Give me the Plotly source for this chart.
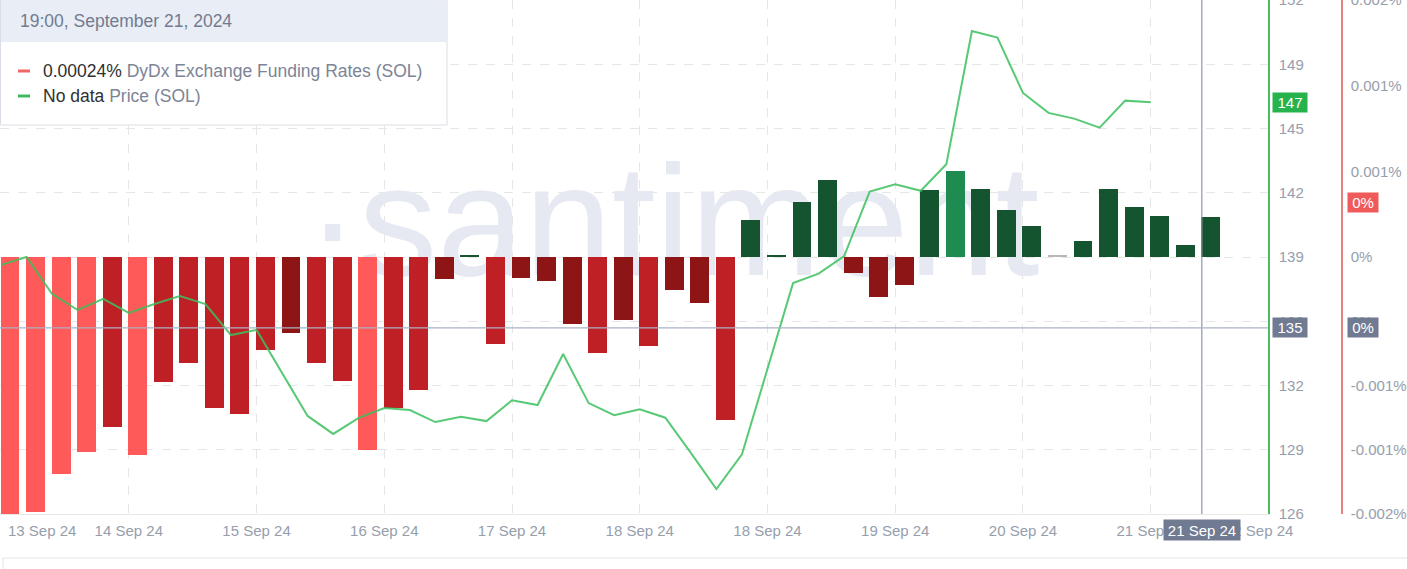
import numpy as np
import plotly.graph_objects as go

# ---------------- data ----------------
funding_rates = [-0.00155, -0.001538, -0.001309, -0.001176, -0.001025, -0.001194, -0.000754, -0.000639,
                 -0.000911, -0.000947, -0.000561, -0.000458, -0.000639, -0.000748, -0.001164, -0.000911,
                 -0.000802, -0.000133, 0.000011, -0.000525, -0.000127, -0.000145, -0.000404, -0.000579,
                 -0.00038, -0.000537, -0.000199, -0.000277, -0.000983, 0.000223, 0.000013, 0.000332,
                 0.000464, -0.000096, -0.000241, -0.000169, 0.000407, 0.000519, 0.00041, 0.000283,
                 0.000187, 0.000008, 0.0000965, 0.000413, 0.000302, 0.000247, 0.0000754, 0.00024]

price = [138.6, 139.0, 137.13, 136.32, 136.88, 136.17, 136.62, 137.03, 136.62, 135.05, 135.31, 133.13,
         130.96, 130.05, 130.86, 131.36, 131.26, 130.65, 130.92, 130.7, 131.75, 131.51, 134.09, 131.61,
         131.0, 131.3, 130.87, 129.09, 127.26, 129.02, 133.33, 137.68, 138.16, 139.05, 142.31, 142.68,
         142.35, 143.69, 150.43, 150.1, 147.3, 146.29, 146.0, 145.54, 146.91, 146.83]

x_tick_labels = ["14 Sep 24", "15 Sep 24", "16 Sep 24", "17 Sep 24", "18 Sep 24",
                 "18 Sep 24", "19 Sep 24", "20 Sep 24", "21 Sep 24"]
price_tick_labels = ["126", "129", "132", "136", "139", "142", "145", "149", "152"]
fr_tick_labels = ["0.002%", "0.001%", "0.001%", "0%", "0%", "-0.001%", "-0.001%", "-0.002%"]

header_text = "19:00, September 21, 2024"
fr_value_text = "0.00024%"
price_value_text = "No data"
last_price = 146.83
cross_price = 135.41
last_fr_badge = 0.000326
cross_fr = -0.000428

# ---------------- layout constants ----------------
W, H = 1407, 569
ML, MR, MT, MB = 0, 65, 0, 55
PW = W - ML - MR          # 1342
PH = H - MT - MB          # 514
XDOM = 1268 / PW
FONT = "Liberation Sans, Arial, sans-serif"
TICKC = "#969eac"

FR_MAX = 0.00155
PMIN, PMAX = 126, 152


def bar_color(v):
    if abs(v) < 0.00001:
        return "#b8b8b8"
    if v > 0:
        return "#1e8c50" if v >= 0.00049 else "#145530"
    if v <= -0.0011:
        return "#ff5a5a"
    if v <= -0.00049:
        return "#be2026"
    return "#8e1515"


n_bars = len(funding_rates)
bar_x = np.arange(n_bars)
price_x = np.arange(len(price)) - 0.35

fig = go.Figure()

# watermark (bottom layer)
fig.add_trace(go.Scatter(x=[25.95], y=[140.1], mode="text", text=["·santiment"],
                         textfont=dict(size=157, color="#e6e9f2", family=FONT),
                         hoverinfo="skip", showlegend=False, xaxis="x", yaxis="y"))

fig.add_trace(go.Bar(x=bar_x, y=funding_rates, width=0.74,
                     marker=dict(color=[bar_color(v) for v in funding_rates], line=dict(width=0)),
                     showlegend=False, xaxis="x", yaxis="y2", name="DyDx Exchange Funding Rates (SOL)"))

fig.add_trace(go.Scatter(x=price_x, y=price, mode="lines",
                         line=dict(color="#3cc05e", width=2), opacity=0.85,
                         showlegend=False, xaxis="x", yaxis="y3", name="Price (SOL)"))

grid_x = [4.65 + 5 * j for j in range(len(x_tick_labels))]
price_ticks = [PMIN + (PMAX - PMIN) / 8 * j for j in range(9)]
fr_ticks = [FR_MAX, FR_MAX * 2 / 3, FR_MAX / 3, 0, -FR_MAX / 4, -FR_MAX / 2, -FR_MAX * 3 / 4, -FR_MAX]

fig.update_layout(
    width=W, height=H,
    margin=dict(l=ML, r=MR, t=MT, b=MB, pad=0),
    paper_bgcolor="white", plot_bgcolor="white",
    font=dict(family=FONT, size=15, color=TICKC),
    showlegend=False,
    bargap=0,
    xaxis=dict(domain=[0, XDOM], range=[-0.391, 49.24], tickmode="array", tickvals=grid_x,
               ticktext=x_tick_labels, showgrid=True, gridcolor="#e6e6e6", griddash="dash",
               gridwidth=1, showline=True, linecolor="#e8e8e8", linewidth=1, zeroline=False,
               ticks="outside", ticklen=3, tickcolor="rgba(0,0,0,0)",
               tickfont=dict(size=15, color=TICKC), automargin=False, fixedrange=True),
    yaxis=dict(range=[PMIN, PMAX], side="right", anchor="x", tickmode="array",
               tickvals=price_ticks, ticktext=price_tick_labels, showgrid=True,
               gridcolor="#e6e6e6", griddash="dash", gridwidth=1, zeroline=False,
               showline=True, linecolor="#4cbb61", linewidth=1.5,
               ticks="outside", ticklen=6, tickcolor="rgba(0,0,0,0)",
               ticklabeloverflow="allow",
               tickfont=dict(size=15, color=TICKC), automargin=False),
    yaxis2=dict(range=[-FR_MAX, FR_MAX], overlaying="y", side="right", anchor="free",
                position=1.0, tickmode="array", tickvals=fr_ticks, ticktext=fr_tick_labels,
                showgrid=False, zeroline=False, showline=True, linecolor="#e58080",
                linewidth=1.5, ticks="outside", ticklen=5, tickcolor="rgba(0,0,0,0)",
                ticklabeloverflow="allow",
                tickfont=dict(size=15, color=TICKC), automargin=False),
    yaxis3=dict(range=[PMIN, PMAX], overlaying="y", anchor="x", visible=False),
)


def px_x(p):
    return p / PW


def px_y(p):
    return 1 - p / PH


shapes = []
# crosshair
shapes.append(dict(type="line", xref="x", yref="paper", x0=46.65, x1=46.65, y0=0, y1=1,
                   line=dict(color="#8e96aa", width=1.2), layer="above"))
shapes.append(dict(type="line", xref="paper", yref="y", x0=0, x1=XDOM, y0=cross_price, y1=cross_price,
                   line=dict(color="#aab2c5", width=1.2), layer="above"))
# tooltip box
shapes.append(dict(type="rect", xref="paper", yref="paper", x0=px_x(0.5), x1=px_x(447),
                   y0=px_y(125), y1=px_y(0), fillcolor="white",
                   line=dict(color="#d9dde5", width=1), layer="above"))
shapes.append(dict(type="rect", xref="paper", yref="paper", x0=px_x(1), x1=px_x(446.5),
                   y0=px_y(42), y1=px_y(0.5), fillcolor="#e9edf5",
                   line=dict(width=0), layer="above"))
shapes.append(dict(type="line", xref="paper", yref="paper", x0=px_x(18), x1=px_x(30),
                   y0=px_y(71), y1=px_y(71), line=dict(color="#f06767", width=3), layer="above"))
shapes.append(dict(type="line", xref="paper", yref="paper", x0=px_x(18), x1=px_x(30),
                   y0=px_y(96), y1=px_y(96), line=dict(color="#3cba5c", width=3), layer="above"))
# navigator frame
shapes.append(dict(type="rect", xref="paper", yref="paper", x0=px_x(3), x1=px_x(1420),
                   y0=px_y(580), y1=px_y(558), fillcolor="rgba(0,0,0,0)",
                   line=dict(color="#e3e5ea", width=1), layer="above"))

annotations = []
annotations.append(dict(xref="paper", yref="paper", x=px_x(18), y=px_y(21), xanchor="left",
                        yanchor="middle", showarrow=False, text=header_text,
                        font=dict(size=17.5, color="#717c90", family=FONT)))
annotations.append(dict(xref="paper", yref="paper", x=px_x(41), y=px_y(71), xanchor="left",
                        yanchor="middle", showarrow=False,
                        text=f"<span style='color:#2f2f2f'>{fr_value_text}</span> DyDx Exchange Funding Rates (SOL)",
                        font=dict(size=17.5, color="#7c8496", family=FONT)))
annotations.append(dict(xref="paper", yref="paper", x=px_x(41), y=px_y(96), xanchor="left",
                        yanchor="middle", showarrow=False,
                        text=f"<span style='color:#2f2f2f'>{price_value_text}</span> Price (SOL)",
                        font=dict(size=17.5, color="#7c8496", family=FONT)))
# extra x labels
annotations.append(dict(xref="x", yref="paper", x=1.25, y=px_y(530), showarrow=False,
                        text="13 Sep 24", font=dict(size=15, color=TICKC), yanchor="middle"))
annotations.append(dict(xref="x", yref="paper", x=48.88, y=px_y(530), showarrow=False,
                        text="22 Sep 24", font=dict(size=15, color=TICKC), yanchor="middle"))
# badges
annotations.append(dict(xref="paper", yref="y", x=px_x(1272), y=last_price, xanchor="left",
                        yanchor="middle", showarrow=False, text=str(round(last_price)),
                        bgcolor="#27b34c", font=dict(size=15, color="white"), width=34, height=19,
                        borderpad=0))
annotations.append(dict(xref="paper", yref="y", x=px_x(1272), y=cross_price, xanchor="left",
                        yanchor="middle", showarrow=False, text=str(int(cross_price)),
                        bgcolor="#707a91", font=dict(size=15, color="white"), width=34, height=19,
                        borderpad=0))
annotations.append(dict(xref="paper", yref="y2", x=px_x(1347), y=last_fr_badge, xanchor="left",
                        yanchor="middle", showarrow=False, text="0%",
                        bgcolor="#ef5a5a", font=dict(size=15, color="white"), width=30, height=19,
                        borderpad=0))
annotations.append(dict(xref="paper", yref="y2", x=px_x(1347), y=cross_fr, xanchor="left",
                        yanchor="middle", showarrow=False, text="0%",
                        bgcolor="#707a91", font=dict(size=15, color="white"), width=30, height=19,
                        borderpad=0))
annotations.append(dict(xref="x", yref="paper", x=46.65, y=px_y(530), xanchor="center",
                        yanchor="middle", showarrow=False, text="21 Sep 24",
                        bgcolor="#707a91", font=dict(size=15, color="white"), width=76, height=20,
                        borderpad=0))

fig.update_layout(shapes=shapes, annotations=annotations)
fig.write_html("out.html", config={"displayModeBar": False},
               post_script="document.body.style.margin='0';document.body.style.overflow='hidden';")
